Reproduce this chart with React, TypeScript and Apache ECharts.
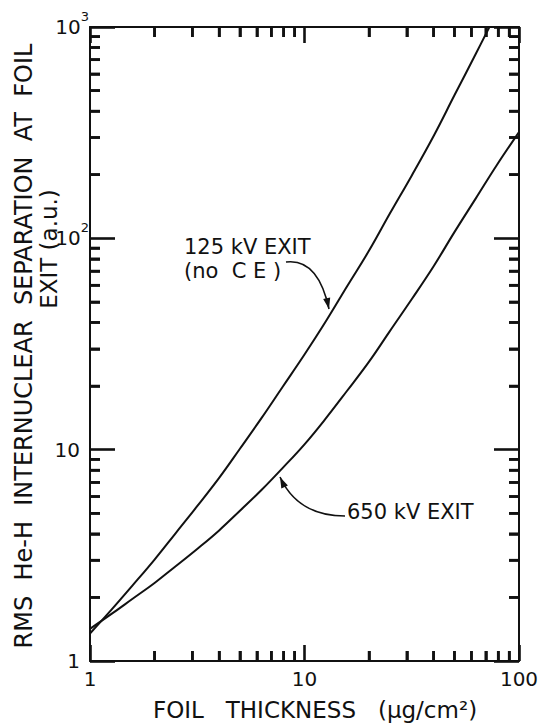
import React, { useEffect, useRef } from "react";
import * as echarts from "echarts";

// Foil thickness (ug/cm^2) sample points and RMS separation (a.u.)
const thickness125 = [1, 1.26, 1.58, 2, 2.5, 3.16, 4, 5, 6.3, 7.9, 10, 12.6, 15.8, 20, 25, 31.6, 40, 50, 63, 72.8];
const sep125 = [1.35, 1.75, 2.28, 3.02, 4.01, 5.4, 7.35, 10.1, 14.1, 19.8, 28.2, 40.6, 59.3, 87.5, 131, 198, 305, 475, 749, 1000];
const thickness650 = [1, 1.26, 1.58, 2, 2.5, 3.16, 4, 5, 6.3, 7.9, 10, 12.6, 15.8, 20, 25, 31.6, 40, 50, 63, 79, 100];
const sep650 = [1.42, 1.67, 1.97, 2.34, 2.8, 3.39, 4.15, 5.14, 6.44, 8.18, 10.6, 14.1, 19.0, 26.1, 36.4, 51.5, 73.8, 107, 155, 223, 318];

const xMinorTicks = [2, 3, 4, 5, 6, 7, 8, 9, 20, 30, 40, 50, 60, 70, 80, 90];
const yMinorTicks = [2, 3, 4, 5, 6, 7, 8, 9, 20, 30, 40, 50, 60, 70, 80, 90, 200, 300, 400, 500, 600, 700, 800, 900];

const yTitle = "RMS  He-H  INTERNUCLEAR  SEPARATION  AT  FOIL";
const yTitle2 = "EXIT (a.u.)";
const xTitle = "FOIL   THICKNESS   (\u03bcg/cm\u00b2)";
const label125a = "125 kV EXIT";
const label125b = "(no  C E )";
const label650 = "650 kV EXIT";

const INK = "#111";
const FONT = "DejaVu Sans";
const MINOR_LEN = 10;
const TICK_W = 2.6;

const GRID = { left: 90, top: 27, width: 429, height: 634 };
const X_MIN = 1, X_MAX = 100, Y_MIN = 1, Y_MAX = 1000;

function arrowHead(tip: number[], from: number[], len = 11, half = 3.6) {
  const dx = tip[0] - from[0];
  const dy = tip[1] - from[1];
  const d = Math.sqrt(dx * dx + dy * dy);
  const ux = dx / d;
  const uy = dy / d;
  const bx = tip[0] - ux * len;
  const by = tip[1] - uy * len;
  return [
    [tip[0], tip[1]],
    [bx - uy * half, by + ux * half],
    [bx + uy * half, by - ux * half],
  ];
}

// On a log axis, splitting each decade into 9 gives minor ticks at 2..9 x 10^n
const minorTickDef = { show: true, splitNumber: 9, length: MINOR_LEN, lineStyle: { color: INK, width: TICK_W } };

function xAxisDef(position: string) {
  return {
    type: "log",
    logBase: 10,
    min: X_MIN,
    max: X_MAX,
    position,
    axisLine: { show: true, onZero: false, lineStyle: { color: INK, width: 2 } },
    axisTick: { show: true, inside: true, length: 16, lineStyle: { color: INK, width: TICK_W } },
    minorTick: minorTickDef,
    axisLabel: {
      show: position === "bottom",
      margin: 8,
      fontSize: 20,
      fontFamily: FONT,
      color: INK,
      showMinLabel: true,
      showMaxLabel: true,
      formatter: (v: number) => String(Math.round(v)),
    },
    splitLine: { show: false },
    minorSplitLine: { show: false },
  };
}

function yAxisDef(position: string) {
  return {
    type: "log",
    logBase: 10,
    min: Y_MIN,
    max: Y_MAX,
    position,
    axisLine: { show: true, onZero: false, lineStyle: { color: INK, width: 2 } },
    axisTick: { show: true, inside: true, length: 25, lineStyle: { color: INK, width: TICK_W } },
    minorTick: minorTickDef,
    axisLabel: {
      show: position === "left",
      margin: 1,
      showMinLabel: true,
      showMaxLabel: true,
      formatter: (v: number) => {
        const r = Math.round(v);
        if (r === 1) return "{n|1}";
        if (r === 10) return "{n|10}";
        if (r === 100) return "{b|10}{s|2}";
        return "{b|10}{s|3}";
      },
      rich: {
        n: { fontSize: 20, fontFamily: FONT, color: INK, lineHeight: 34, padding: [0, 9, 0, 0] },
        b: { fontSize: 20, fontFamily: FONT, color: INK, lineHeight: 34 },
        s: { fontSize: 13, fontFamily: FONT, color: INK, lineHeight: 14, verticalAlign: "top" },
      },
    },
    splitLine: { show: false },
    minorSplitLine: { show: false },
  };
}

export default function App() {
  const ref = useRef<HTMLDivElement>(null);
  useEffect(() => {
    if (!ref.current) return;
    const chart = echarts.init(ref.current, null, { renderer: "svg", width: 538, height: 725 });

    // backup minor ticks on the same log mapping as the axes (coincide with axis minor ticks)
    const left = GRID.left;
    const right = GRID.left + GRID.width;
    const top = GRID.top;
    const bottom = GRID.top + GRID.height;
    const xPx = (v: number) => left + (GRID.width * Math.log10(v / X_MIN)) / Math.log10(X_MAX / X_MIN);
    const yPx = (v: number) => bottom - (GRID.height * Math.log10(v / Y_MIN)) / Math.log10(Y_MAX / Y_MIN);
    const ticks: any[] = [];
    const tickRect = (x: number, y: number, w: number, h: number) => ({
      type: "rect",
      silent: true,
      z: 10,
      shape: { x, y, width: w, height: h },
      style: { fill: INK },
    });
    xMinorTicks.forEach((v) => {
      const px = xPx(v);
      ticks.push(tickRect(px - TICK_W / 2, bottom - MINOR_LEN, TICK_W, MINOR_LEN));
      ticks.push(tickRect(px - TICK_W / 2, top, TICK_W, MINOR_LEN));
    });
    yMinorTicks.forEach((v) => {
      const py = yPx(v);
      ticks.push(tickRect(left, py - TICK_W / 2, MINOR_LEN, TICK_W));
      ticks.push(tickRect(right - MINOR_LEN, py - TICK_W / 2, MINOR_LEN, TICK_W));
    });

    const tip125 = [329, 309];
    const cp125 = [318, 258];
    const start125 = [286, 262];
    const tip650 = [280, 477];
    const cp650 = [298, 516];
    const start650 = [345, 516];

    const textStyle = (text: string, size: number, align: string) => ({
      text,
      fontSize: size,
      fontFamily: FONT,
      fill: INK,
      align,
      verticalAlign: "middle",
    });

    const option: any = {
      animation: false,
      backgroundColor: "#fff",
      grid: { ...GRID, containLabel: false, outerBoundsMode: "none" },
      xAxis: [xAxisDef("bottom"), xAxisDef("top")],
      yAxis: [yAxisDef("left"), yAxisDef("right")],
      series: [
        {
          name: "125 kV EXIT (no CE)",
          type: "line",
          data: thickness125.map((x, i) => [x, sep125[i]]),
          showSymbol: false,
          symbol: "none",
          smooth: 0.4,
          clip: true,
          silent: true,
          lineStyle: { color: INK, width: 2 },
        },
        {
          name: "650 kV EXIT",
          type: "line",
          data: thickness650.map((x, i) => [x, sep650[i]]),
          showSymbol: false,
          symbol: "none",
          smooth: 0.4,
          clip: true,
          silent: true,
          lineStyle: { color: INK, width: 2 },
        },
      ],
      graphic: [
        { type: "group", children: ticks },
        { type: "text", x: 24, y: 346, rotation: Math.PI / 2, style: textStyle(yTitle, 24, "center") },
        { type: "text", x: 49, y: 249, rotation: Math.PI / 2, style: textStyle(yTitle2, 23, "center") },
        { type: "text", x: 315, y: 710, style: textStyle(xTitle, 23, "center") },
        { type: "text", x: 184, y: 247, style: textStyle(label125a, 21, "left") },
        { type: "text", x: 184, y: 271, style: textStyle(label125b, 21, "left") },
        { type: "text", x: 347, y: 512, style: textStyle(label650, 21, "left") },
        {
          type: "bezierCurve",
          shape: { x1: start125[0], y1: start125[1], x2: tip125[0], y2: tip125[1], cpx1: cp125[0], cpy1: cp125[1] },
          style: { stroke: INK, lineWidth: 1.6, fill: null },
        },
        { type: "polygon", shape: { points: arrowHead(tip125, cp125) }, style: { fill: INK } },
        {
          type: "bezierCurve",
          shape: { x1: start650[0], y1: start650[1], x2: tip650[0], y2: tip650[1], cpx1: cp650[0], cpy1: cp650[1] },
          style: { stroke: INK, lineWidth: 1.6, fill: null },
        },
        { type: "polygon", shape: { points: arrowHead(tip650, cp650) }, style: { fill: INK } },
      ],
    };
    chart.setOption(option);
    return () => chart.dispose();
  }, []);
  return (
    <div
      ref={ref}
      style={{ position: "fixed", left: 0, top: 0, width: 538, height: 725, background: "#fff" }}
    />
  );
}
